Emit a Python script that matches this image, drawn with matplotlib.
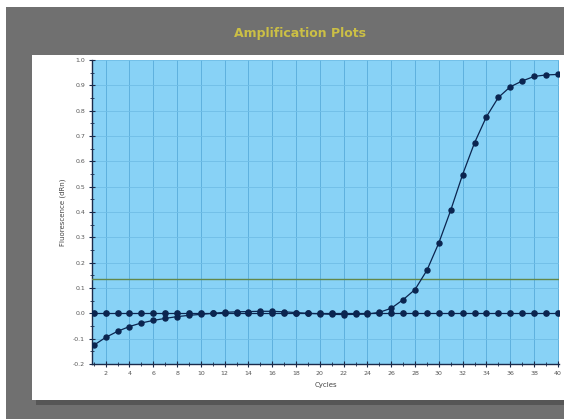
import matplotlib
matplotlib.use("Agg")
import matplotlib.pyplot as plt
from matplotlib.patches import Rectangle
from matplotlib.ticker import MultipleLocator, FormatStrFormatter

# qPCR run, 40 cycles
cycles = list(range(1, 41))

# no-template well, stays on the baseline
baseline = [0.0, 0.0, 0.0, 0.0, 0.0, 0.0, 0.0, 0.0, 0.0, 0.0,
            0.0, 0.0, 0.0, 0.0, 0.0, 0.0, 0.0, 0.0, 0.0, 0.0,
            0.0, 0.0, 0.0, 0.0, 0.0, 0.0, 0.0, 0.0, 0.0, 0.0,
            0.0, 0.0, 0.0, 0.0, 0.0, 0.0, 0.0, 0.0, 0.0, 0.0]

# amplified sample (dRn)
sample = [-0.126, -0.095, -0.071, -0.052, -0.038, -0.028, -0.020, -0.013, -0.008, -0.004,
          0.000, 0.004, 0.006, 0.007, 0.008, 0.008, 0.006, 0.003, 0.000, -0.002,
          -0.004, -0.005, -0.004, -0.003, 0.004, 0.020, 0.054, 0.094, 0.170, 0.278,
          0.407, 0.548, 0.673, 0.776, 0.852, 0.894, 0.917, 0.935, 0.941, 0.943]

threshold = 0.137

title = "Amplification Plots"
xlabel = "Cycles"
ylabel = "Fluorescence (dRn)"

W, H = 564, 419
fig = plt.figure(figsize=(W / 100, H / 100), dpi=100)
fig.patch.set_facecolor("white")


def px_rect(x0, y0, x1, y1, z, **kw):
    # rectangle given in pixel coords, origin top-left
    fig.patches.append(Rectangle((x0 / W, 1 - y1 / H), (x1 - x0) / W, (y1 - y0) / H,
                                 transform=fig.transFigure, figure=fig, zorder=z, **kw))


# grey window, panel shadow, white panel (kept behind the axes)
px_rect(6, 7, W, H, -3, facecolor="#707070", edgecolor="none")
px_rect(36, 59, W, 405, -2, facecolor="#565656", edgecolor="none")
px_rect(32, 55, W, 400, -1, facecolor="white", edgecolor="none")

fig.text(300 / W, 1 - 33 / H, title, ha="center", va="center",
         color="#cbbf45", fontsize=9, fontweight="bold")

ax = fig.add_axes([92 / W, 1 - 364 / H, (559 - 92) / W, (364 - 60) / H])
ax.set_facecolor("#88d2f6")

ax.plot(cycles, baseline, color="#0b2550", lw=0.9, marker="o", ms=3.8, zorder=4)
ax.plot(cycles, sample, color="#0b2550", lw=0.9, marker="o", ms=3.6, zorder=5)
ax.axhline(threshold, color="#62884a", lw=1.0, zorder=3)

ax.set_xlim(0.85, 40.1)
ax.set_ylim(-0.2, 1.0)
ax.xaxis.set_major_locator(MultipleLocator(2))
ax.xaxis.set_minor_locator(MultipleLocator(1))
ax.yaxis.set_major_locator(MultipleLocator(0.1))
ax.yaxis.set_minor_locator(MultipleLocator(0.05))
ax.yaxis.set_major_formatter(FormatStrFormatter("%.1f"))

ax.grid(True, which="major", axis="x", color="#5eb0de", lw=0.7)
ax.grid(True, which="major", axis="y", color="#6fbde6", lw=0.6)
ax.set_axisbelow(True)

for side in ("top", "right"):
    ax.spines[side].set_visible(False)
for side in ("left", "bottom"):
    ax.spines[side].set_color("#1a2a4a")
    ax.spines[side].set_linewidth(1.0)

ax.tick_params(which="both", direction="inout", colors="#1a2a4a",
               labelcolor="#555555", labelsize=4.5, pad=3)
ax.tick_params(which="major", length=4, width=0.8)
ax.tick_params(which="minor", length=2.5, width=0.6)

ax.set_xlabel(xlabel, fontsize=5, color="#444444", labelpad=4)
ax.set_ylabel(ylabel, fontsize=5, color="#444444", labelpad=5)

fig.savefig("out.png", dpi=100)
